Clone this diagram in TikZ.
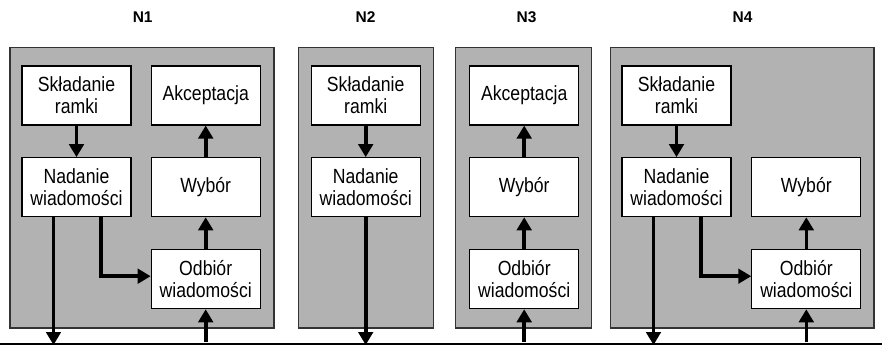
\documentclass[tikz,border=0pt]{standalone}
\usepackage{fontspec}
\setmainfont{Liberation Sans}
\newfontfamily\boxfont[FakeStretch=0.86]{Liberation Sans}
\usetikzlibrary{arrows.meta}
\definecolor{panelgray}{RGB}{178,178,178}
\tikzset{
  panel/.style={draw=black!80, line width=1.3pt, fill=panelgray, inner sep=0pt},
  stage/.style={draw=black, line width=1.1pt, fill=white, inner sep=0pt,
    minimum width=109pt, minimum height=59pt, align=center,
    font=\boxfont\fontsize{20.5}{22}\selectfont},
  title/.style={font=\bfseries\fontsize{15.5}{18}\selectfont},
  arr/.style={line width=3.6pt, -{Triangle[width=14.5pt,length=13pt]}},
  bus/.style={line width=1.5pt}
}
\begin{document}
\begin{tikzpicture}[x=1pt,y=-1pt]
\useasboundingbox (0,0) rectangle (882,347);

% station panels
\node[panel, minimum width=264pt, minimum height=280.7pt] (p1) at (142,187.6) {};
\node[panel, minimum width=135pt, minimum height=280.7pt] (p2) at (365.8,187.6) {};
\node[panel, minimum width=136pt, minimum height=280.7pt] (p3) at (523.7,187.6) {};
\node[panel, minimum width=263.3pt, minimum height=280.7pt] (p4) at (742.4,187.6) {};

% station titles
\node[title] (t1) at (142.7,17) {N1};
\node[title] (t2) at (365.5,17) {N2};
\node[title] (t3) at (526.5,17) {N3};
\node[title] (t4) at (742.5,17) {N4};

% shared medium
\coordinate (busL) at (0,344);
\coordinate (busR) at (882,344);
\draw[bus] (busL) -- (busR);

% N1
\node[stage] (n1skl) at (76.5,95.5) {Składanie\\ramki};
\node[stage] (n1nad) at (76.5,187.2) {Nadanie\\wiadomości};
\node[stage] (n1akc) at (205.7,95.5) {Akceptacja};
\node[stage] (n1wyb) at (205.7,187.2) {Wybór};
\node[stage] (n1odb) at (205.7,279.2) {Odbiór\\wiadomości};
\draw[arr] (n1skl) -- (n1nad);
\draw[arr] ([xshift=-23pt]n1nad.south) -- ([xshift=-23pt,yshift=-1pt]n1nad.south |- busL);
\draw[arr] ([xshift=24.5pt]n1nad.south) |- ([yshift=3pt]n1odb.west);
\draw[arr] ([yshift=2pt]n1odb.south |- busL) -- (n1odb.south);
\draw[arr] (n1odb) -- (n1wyb);
\draw[arr] (n1wyb) -- (n1akc);

% N2
\node[stage] (n2skl) at (365.7,95.5) {Składanie\\ramki};
\node[stage] (n2nad) at (365.7,187.2) {Nadanie\\wiadomości};
\draw[arr] (n2skl) -- (n2nad);
\draw[arr] (n2nad.south) -- ([yshift=-1pt]n2nad.south |- busL);

% N3
\node[stage] (n3akc) at (524.2,95.5) {Akceptacja};
\node[stage] (n3wyb) at (524.2,187.2) {Wybór};
\node[stage] (n3odb) at (524.2,279.2) {Odbiór\\wiadomości};
\draw[arr] ([yshift=2pt]n3odb.south |- busL) -- (n3odb.south);
\draw[arr] (n3odb) -- (n3wyb);
\draw[arr] (n3wyb) -- (n3akc);

% N4
\node[stage] (n4skl) at (676.5,95.5) {Składanie\\ramki};
\node[stage] (n4nad) at (676.5,187.2) {Nadanie\\wiadomości};
\node[stage] (n4wyb) at (806.3,187.2) {Wybór};
\node[stage] (n4odb) at (806.3,279.2) {Odbiór\\wiadomości};
\draw[arr] (n4skl) -- (n4nad);
\draw[arr] ([xshift=-23pt]n4nad.south) -- ([xshift=-23pt,yshift=-1pt]n4nad.south |- busL);
\draw[arr] ([xshift=24.5pt]n4nad.south) |- ([yshift=3pt]n4odb.west);
\draw[arr] ([yshift=2pt]n4odb.south |- busL) -- (n4odb.south);
\draw[arr] (n4odb) -- (n4wyb);
\end{tikzpicture}
\end{document}
